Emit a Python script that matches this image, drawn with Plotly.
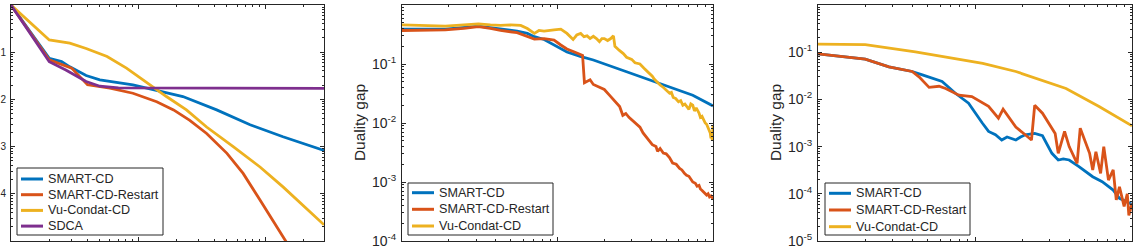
import plotly.graph_objects as go
import math

W, H = 1141, 249

C_BLUE = "#0072BD"
C_ORANGE = "#D95319"
C_YELLOW = "#EDB120"
C_PURPLE = "#7E2F8E"
AX = "#262626"

# ---------------- Panel 1 data ----------------
p1_smart_x = [1, 2, 2.5, 2.9, 3.9, 5, 9.1, 14, 22.5, 41.5, 76, 138, 290]
p1_smart_y = [1, 0.074, 0.063, 0.049, 0.032, 0.026, 0.0204, 0.0158, 0.0115, 0.006, 0.0029, 0.00162, 0.00083]

p1_restart_x = [1, 2, 3, 4, 6, 9.1, 14, 19, 25.5, 34.6, 50, 67, 91, 115, 148, 170]
p1_restart_y = [1, 0.069, 0.046, 0.0204, 0.0174, 0.0135, 0.0089, 0.006, 0.0036, 0.0019,
                0.00072, 0.00027, 0.000074, 0.0000275, 0.0000091, 0.0000045]

p1_vu_x = [1, 2, 2.9, 3.9, 5.7, 8.1, 11, 14, 16.7, 24, 34.6, 56, 91, 138, 290]
p1_vu_y = [1, 0.182, 0.155, 0.12, 0.081, 0.046, 0.0257, 0.0158, 0.0115, 0.006, 0.0026,
           0.001, 0.00037, 0.00014, 0.000022]

p1_sdca_x = [1, 2, 2.7, 3.9, 5, 7, 290]
p1_sdca_y = [1, 0.063, 0.042, 0.024, 0.019, 0.0175, 0.0172]

# ---------------- Panel 2 data ----------------
p2_smart_x = [1, 1.9, 3.1, 4.3, 5.5, 6.4, 7.1, 8.2, 9.5, 11.5, 14, 17, 27.8, 45.7, 74.1, 100]
p2_smart_y = [0.39, 0.39, 0.44, 0.39, 0.36, 0.33, 0.29, 0.26, 0.21, 0.16, 0.135, 0.117,
              0.074, 0.047, 0.0295, 0.0195]

p2_restart_x = [1, 1.5, 1.9, 2.5, 3.1, 3.7, 4.3, 5.5, 6.4, 7.1, 8.2, 9.5, 10.5, 11.5, 13.2,
                14.5, 14.9, 16.2, 17.0, 18.6, 20, 21.5, 22.9, 24, 25.1, 26.3, 27.5, 28.8,
                30.9, 32, 33.9, 35.5, 38, 40.7, 43, 44, 45.7, 47.9, 50, 52.5, 55, 58, 61,
                63.1, 65.5, 67.6, 70, 72, 74.1, 77, 79, 81.3, 83, 85.1, 87, 89.1, 91, 93,
                95, 97, 100]
p2_restart_y = [0.37, 0.375, 0.38, 0.40, 0.43, 0.40, 0.37, 0.34, 0.29, 0.265, 0.27, 0.255,
                0.21, 0.18, 0.155, 0.14, 0.048, 0.054, 0.045, 0.041, 0.037, 0.03, 0.0245,
                0.021, 0.019, 0.0135, 0.0145, 0.0125, 0.0107, 0.0098, 0.0085, 0.0068,
                0.0055, 0.0043, 0.0040, 0.0033, 0.0037, 0.0031, 0.0030, 0.0026, 0.0021,
                0.0020, 0.0017, 0.0016, 0.0014, 0.0013, 0.00125, 0.0011, 0.0010, 0.00095,
                0.00085, 0.00088, 0.00076, 0.00072, 0.00068, 0.00065, 0.0006, 0.00063,
                0.00056, 0.00058, 0.00052]

p2_vu_x = [1, 1.5, 1.9, 2.5, 3.1, 3.7, 4.3, 5.0, 5.8, 6.4, 7.1, 7.6, 8.2, 9.5, 10.5, 11.5,
           12.6, 13.3, 14.1, 14.8, 15.5, 16.2, 17.0, 17.8, 18.6, 19.3, 20, 21, 22, 22.9,
           23.4, 25, 26.5, 27.8, 30, 31.5, 33.9, 36, 38, 40.7, 42, 43.5, 45.7, 48, 50,
           52.5, 54, 55.5, 57.5, 60, 62, 64, 66, 67.6, 70, 72, 74.1, 76, 78, 81.3, 83,
           85, 87, 89.1, 91, 93, 95, 96, 97, 98, 99, 100]
p2_vu_y = [0.46, 0.45, 0.44, 0.46, 0.48, 0.46, 0.45, 0.46, 0.45, 0.40, 0.33, 0.37, 0.36,
           0.38, 0.39, 0.33, 0.26, 0.31, 0.33, 0.29, 0.30, 0.27, 0.295, 0.27, 0.24, 0.27,
           0.27, 0.25, 0.27, 0.30, 0.20, 0.17, 0.15, 0.13, 0.12, 0.105, 0.10, 0.085, 0.075,
           0.062, 0.055, 0.05, 0.044, 0.040, 0.036, 0.032, 0.033, 0.027, 0.026, 0.023,
           0.024, 0.020, 0.021, 0.019, 0.017, 0.021, 0.02, 0.016, 0.018, 0.0148, 0.0125,
           0.013, 0.011, 0.010, 0.0095, 0.0085, 0.0075, 0.0068, 0.0055, 0.0065, 0.0050,
           0.0090]

# ---------------- Panel 3 data ----------------
p3_smart_x = [1, 2.0, 2.83, 3.98, 4.62, 6.17, 7.5, 9.1, 11.1, 12.2, 13.5, 14.8, 16, 17.4,
              18.2, 19.5, 20.9, 24, 26.9, 30.9, 33.9, 36.5, 39.8, 45.7, 56.2, 64.6, 75.9,
              83.2, 95.5, 100]
p3_smart_y = [0.092, 0.071, 0.049, 0.039, 0.033, 0.024, 0.0135, 0.0083, 0.0032, 0.0021,
              0.00178, 0.00138, 0.0016, 0.00148, 0.00138, 0.0016, 0.00178, 0.0019, 0.0017,
              0.00072, 0.00052, 0.00055, 0.00052, 0.00038, 0.00023, 0.00018, 0.00012,
              0.00008, 0.000063, 0.00006]

p3_restart_x = [1, 2.0, 2.83, 3.98, 4.4, 5.1, 5.9, 6.5, 7.9, 9.55, 12.2, 14.1, 15.1, 18.2,
                20.9, 22.9, 24.0, 26.9, 32.4, 33.9, 37.2, 39.8, 44.7, 46.8, 53.7, 56.2,
                58.9, 63.1, 66.1, 70.8, 75.9, 79.4, 83.2, 89.1, 93.3, 95.5, 100]
p3_restart_y = [0.092, 0.071, 0.049, 0.039, 0.030, 0.018, 0.019, 0.017, 0.0123, 0.0115,
                0.0071, 0.004, 0.0062, 0.0026, 0.00178, 0.00138, 0.0075, 0.0051, 0.0019,
                0.00072, 0.0021, 0.001, 0.00044, 0.00245, 0.00072, 0.00032, 0.00078,
                0.00027, 0.001, 0.000195, 0.00032, 0.000074, 0.00014, 0.000054, 0.0001,
                0.000035, 0.000062]

p3_vu_x = [1, 2.0, 4.17, 6.76, 11.2, 18.2, 23.4, 38, 61.7, 100]
p3_vu_y = [0.149, 0.145, 0.102, 0.078, 0.058, 0.039, 0.0295, 0.017, 0.0071, 0.00275]

names = ["SMART-CD", "SMART-CD-Restart", "Vu-Condat-CD", "SDCA"]
colors = [C_BLUE, C_ORANGE, C_YELLOW, C_PURPLE]

# panel 1 y tick labels: only the exponent digits are visible in the reference
p1_ytext = ["0", "1", "2", "3", "4"]
p2_ytext = ["10<sup>0</sup>", "10<sup>-1</sup>", "10<sup>-2</sup>", "10<sup>-3</sup>", "10<sup>-4</sup>"]
p3_ytext = ["10<sup>0</sup>", "10<sup>-1</sup>", "10<sup>-2</sup>", "10<sup>-3</sup>", "10<sup>-4</sup>", "10<sup>-5</sup>"]


def px(x):
    return x / W


def py(y):
    return 1 - y / H


panels = [
    dict(x0=11, x1=324, xr=[0, math.log10(290)], yr=[-5, 0], ylab=False,
         yt=[1, 1e-1, 1e-2, 1e-3, 1e-4], ytt=p1_ytext, tfs=10),
    dict(x0=402, x1=713, xr=[0, 2], yr=[-4, 0], ylab=True,
         yt=[1, 1e-1, 1e-2, 1e-3, 1e-4], ytt=p2_ytext, tfs=14),
    dict(x0=818, x1=1132, xr=[0, 2], yr=[-5, 0], ylab=True,
         yt=[1, 1e-1, 1e-2, 1e-3, 1e-4, 1e-5], ytt=p3_ytext, tfs=14),
]
Y_TOP, Y_BOT = 5, 241

fig = go.Figure()

series = [
    [(p1_smart_x, p1_smart_y), (p1_restart_x, p1_restart_y), (p1_vu_x, p1_vu_y), (p1_sdca_x, p1_sdca_y)],
    [(p2_smart_x, p2_smart_y), (p2_restart_x, p2_restart_y), (p2_vu_x, p2_vu_y)],
    [(p3_smart_x, p3_smart_y), (p3_restart_x, p3_restart_y), (p3_vu_x, p3_vu_y)],
]

for i, ser in enumerate(series):
    ax = "" if i == 0 else str(i + 1)
    for j, (xs, ys) in enumerate(ser):
        fig.add_trace(go.Scatter(x=xs, y=ys, mode="lines", name=names[j],
                                 line=dict(color=colors[j], width=2.8),
                                 xaxis="x" + ax, yaxis="y" + ax, showlegend=False))

font_family = "Liberation Sans, Arial, Helvetica, sans-serif"
layout = dict(width=W, height=H, autosize=False,
              margin=dict(l=0, r=0, t=0, b=0),
              paper_bgcolor="white", plot_bgcolor="white",
              font=dict(family=font_family, color=AX, size=14),
              showlegend=False)

for i, p in enumerate(panels):
    ax = "" if i == 0 else str(i + 1)
    layout["xaxis" + ax] = dict(
        type="log", range=p["xr"], domain=[px(p["x0"]), px(p["x1"])],
        anchor="y" + ax, showgrid=False, zeroline=False,
        showline=True, linecolor=AX, linewidth=1, mirror="ticks",
        ticks="inside", ticklen=4, tickcolor=AX, tickwidth=1,
        tickmode="array", tickvals=[1, 10, 100], showticklabels=False,
        minor=dict(ticks="inside", ticklen=2, tickcolor=AX, dtick="D1", showgrid=False),
        automargin=False, fixedrange=True)
    layout["yaxis" + ax] = dict(
        type="log", range=p["yr"], domain=[py(Y_BOT), py(Y_TOP)],
        anchor="x" + ax, showgrid=False, zeroline=False,
        showline=True, linecolor=AX, linewidth=1, mirror="ticks",
        ticks="inside", ticklen=4, tickcolor=AX, tickwidth=1,
        tickmode="array", tickvals=p["yt"], ticktext=p["ytt"],
        ticklabelstandoff=2,
        tickfont=dict(size=p["tfs"], color=AX, family=font_family),
        minor=dict(ticks="inside", ticklen=2, tickcolor=AX, dtick="D1", showgrid=False),
        automargin=False, fixedrange=True)

fig.update_layout(**layout)

shapes = []
annotations = []

# y-axis titles
for p in panels:
    if p["ylab"]:
        annotations.append(dict(x=px(p["x0"] - 42), y=py(123), xref="paper", yref="paper",
                                text="Duality gap", textangle=-90, showarrow=False,
                                xanchor="center", yanchor="middle",
                                font=dict(size=15.4, color=AX, family=font_family)))

# legends (drawn manually to match the box geometry)
legend_boxes = [
    dict(x0=17, x1=163, y0=168, y1=235, rows=[179, 194.7, 210.4, 226.1], n=4),
    dict(x0=408, x1=553, y0=183, y1=235, rows=[192.7, 209.3, 226], n=3),
    dict(x0=825, x1=970, y0=183, y1=235, rows=[193.3, 210, 226.7], n=3),
]
for lb in legend_boxes:
    shapes.append(dict(type="rect", xref="paper", yref="paper",
                       x0=px(lb["x0"]), x1=px(lb["x1"]), y0=py(lb["y1"]), y1=py(lb["y0"]),
                       line=dict(color=AX, width=1), fillcolor="white", layer="above"))
    for k in range(lb["n"]):
        yy = lb["rows"][k]
        shapes.append(dict(type="line", xref="paper", yref="paper",
                           x0=px(lb["x0"] + 4), x1=px(lb["x0"] + 26), y0=py(yy), y1=py(yy),
                           line=dict(color=colors[k], width=3), layer="above"))
        annotations.append(dict(x=px(lb["x0"] + 29), y=py(yy), xref="paper", yref="paper",
                                text=names[k], showarrow=False, xanchor="left", yanchor="middle",
                                font=dict(size=12.6, color=AX, family=font_family)))

fig.update_layout(shapes=shapes, annotations=annotations)

fig.write_html("out.html")
